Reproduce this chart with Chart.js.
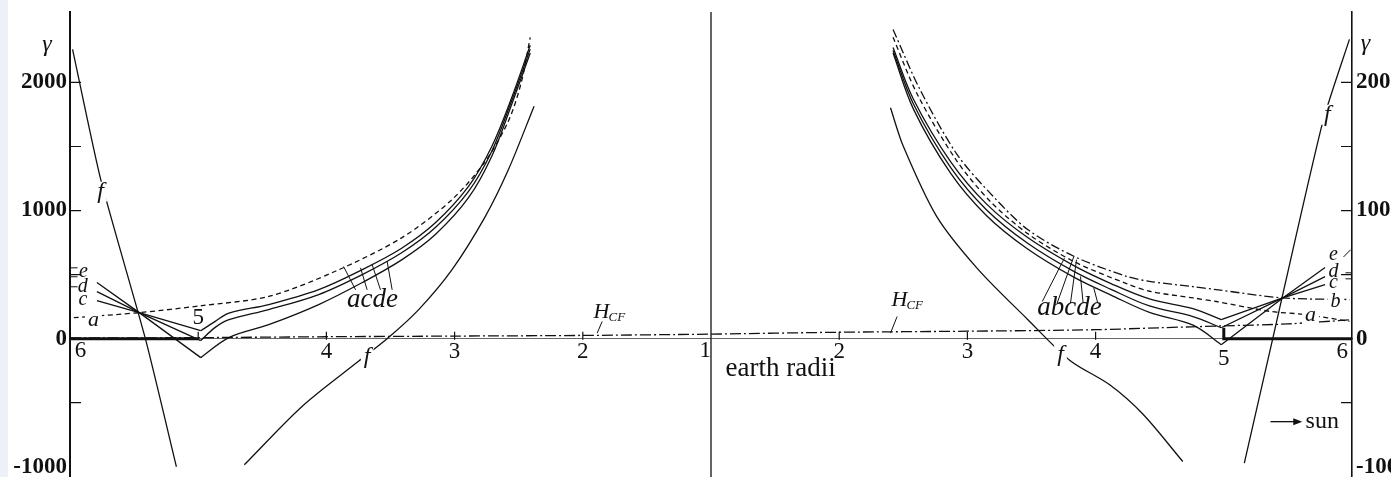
<!DOCTYPE html>
<html>
<head>
<meta charset="utf-8">
<title>γ along the earth radii</title>
<script src="https://cdn.jsdelivr.net/npm/chart.js@4.4.0/dist/chart.umd.min.js"></script>
<style>
  html, body { margin: 0; padding: 0; background: #fff; }
  canvas { display: block; }
</style>
</head>
<body>
<canvas id="fig" width="1391" height="477"></canvas>
<script>
// field in gamma against distance in earth radii.
// left half runs from 6 earth radii in to 1, right half from 1 out to 6 (towards the sun)
const gammaMin = -1080;
const gammaMax = 2550;
const gammaTicks = [-1000, 0, 1000, 2000];          //labelled values on both γ axes
const gammaMarks = [-500, 500, 1000, 1500, 2000];   //small inward marks on both γ axes
const radiusMarks = [2, 3, 4, 5];                   //small marks on the zero line

// [earth radii, gamma] pairs, left half
const leftA  = [[5.97,164],[5.46,203],[4.97,258],[4.45,330],[3.93,526],[3.41,789],[3.02,1086],[2.76,1385],[2.58,1699],[2.48,2000],[2.41,2352]];
const leftC  = [[5.79,297],[5.46,203],[4.98,62],[4.87,133],[4.76,200],[4.45,266],[4.06,383],[3.72,539],[3.41,708],[3.15,904],[2.89,1190],[2.71,1500],[2.56,1867],[2.41,2290]];
const leftD  = [[5.79,367],[5.46,203],[4.98,-15],[4.87,86],[4.76,148],[4.45,227],[4.06,344],[3.72,500],[3.41,672],[3.15,867],[2.89,1151],[2.71,1463],[2.56,1844],[2.41,2260]];
const leftE  = [[5.79,438],[5.46,203],[4.98,-148],[4.76,8],[4.45,109],[4.06,266],[3.72,438],[3.41,617],[3.15,813],[2.89,1102],[2.71,1424],[2.56,1815],[2.41,2230]];
const leftF1 = [[5.98,2258],[5.76,1241],[5.41,-8],[5.17,-1000]];
const leftF2 = [[4.64,-984],[4.19,-529],[3.75,-177],[3.52,5],[3.28,227],[3.02,539],[2.76,955],[2.58,1320],[2.38,1815]];
const leftHcf = [[6,5],[5,8],[4,15],[3,20],[2,25],[1,35]];

// right half
const rightA  = [[2.42,2352],[2.61,1906],[2.91,1398],[3.18,1070],[3.47,820],[3.83,602],[4.24,430],[4.42,370],[4.76,318],[4.94,290],[5.36,213],[5.64,188],[5.98,135]];
const rightB  = [[2.42,2414],[2.63,1945],[2.92,1437],[3.2,1112],[3.47,852],[3.83,643],[4.24,487],[4.42,447],[4.76,406],[4.94,383],[5.46,318],[5.98,305]];
const rightC  = [[2.42,2273],[2.58,1867],[2.87,1380],[3.15,1050],[3.47,789],[3.83,570],[4.12,430],[4.42,310],[4.76,234],[4.98,148],[5.46,318],[5.79,422]];
const rightD  = [[2.42,2250],[2.58,1830],[2.87,1335],[3.15,1005],[3.47,745],[3.83,525],[4.12,385],[4.42,255],[4.76,172],[4.98,85],[5.46,318],[5.79,484]];
const rightE  = [[2.42,2230],[2.58,1790],[2.87,1290],[3.15,960],[3.47,700],[3.83,480],[4.12,340],[4.42,205],[4.76,105],[4.98,-47],[5.46,318],[5.79,555]];
const rightF3 = [[2.40,1802],[2.50,1502],[2.76,955],[3.08,545],[3.47,150],[3.80,-170],[4.11,-360],[4.37,-590],[4.68,-959]];
const rightF4 = [[5.16,-971],[5.38,-8],[5.77,1685],[5.98,2336]];
const rightHcf = [[1,35],[2,50],[3,58],[4,70],[4.5,85],[5,100],[5.5,115],[6,148]];

// heavy pieces of the zero line and the line at 1 earth radius
const zeroBarLeft = [[6,0],[5,0]];
const zeroBarRight = [[5,85],[5,0],[6,0]];
const earthLine = [[1,gammaMin],[1,gammaMax]];

const ink = '#111111';
const serif = '"Liberation Serif", "DejaVu Serif", serif';

// left half is drawn mirrored: position = 1 - r, right half: r - 1
function pos(side, r) {
  return side === 'L' ? 1 - r : r - 1;
}

function toPoints(list, side) {
  return list.map(([r, g]) => ({ x: pos(side, r), y: g })).sort((p, q) => p.x - q.x);
}

function curve(list, side, dash, tension, width) {
  return {
    data: toPoints(list, side),
    borderColor: ink,
    borderWidth: width || 1.3,
    borderDash: dash || [],
    tension: tension,
    pointRadius: 0,
    fill: false,
  };
}

// c, d, e bend sharply at 5 earth radii: straight outer leg, smooth inner branch
function kinked(list, side) {
  let k = 0;
  list.forEach((p, i) => { if (p[1] < list[k][1]) k = i; });
  const parts = [list.slice(0, k + 1), list.slice(k)];
  return parts.map(part => {
    const outer = Math.max(...part.map(p => p[0])) > 5.01;
    return curve(part, side, [], outer ? 0 : 0.35);
  });
}

const dashA = [5, 3.5];
const dashB = [9, 3, 2, 3];
const dashH = [11, 3, 2, 3];

const datasets = [
  curve(leftA, 'L', dashA, 0.3),
  ...kinked(leftC, 'L'), ...kinked(leftD, 'L'), ...kinked(leftE, 'L'),
  curve(leftF1, 'L', [], 0.2),
  curve(leftF2, 'L', [], 0.3),
  curve(leftHcf, 'L', dashH, 0.3),
  curve(rightA, 'R', dashA, 0.3),
  curve(rightB, 'R', dashB, 0.3),
  ...kinked(rightC, 'R'), ...kinked(rightD, 'R'), ...kinked(rightE, 'R'),
  curve(rightF3, 'R', [], 0.3),
  curve(rightF4, 'R', [], 0.2),
  curve(rightHcf, 'R', dashH, 0.3),
  curve(zeroBarLeft, 'L', [], 0, 3),
  curve(zeroBarRight, 'R', [], 0, 3),
  curve(earthLine, 'R', [], 0, 1.3),
];

// curve letters and other lettering, placed in [side, r, gamma]; knockout = clear the line under it
const notes = [
  ['γ', 'L', 6.18, 2295, 'italic 24px'],
  ['γ', 'R', 6.105, 2303, 'italic 24px'],
  ['e', 'L', 5.895, 522, 'italic 20px'],
  ['d', 'L', 5.90, 405, 'italic 20px'],
  ['c', 'L', 5.90, 303, 'italic 20px'],
  ['a', 'L', 5.817, 147, 'italic 22px', true],
  ['5', 'L', 5.0, 162, '23px'],
  ['6', 'L', 5.918, -95, '23px'],
  ['1', 'R', 0.955, -95, '23px'],
  ['acde', 'L', 3.64, 303, 'italic 27px'],
  ['f', 'L', 5.762, 1147, 'italic 24px', true],
  ['f', 'L', 3.682, -140, 'italic 24px', true],
  ['f', 'R', 5.807, 1748, 'italic 24px', true],
  ['f', 'R', 3.726, -127, 'italic 24px', true],
  ['abcde', 'R', 3.796, 241, 'italic 27px'],
  ['e', 'R', 5.856, 655, 'italic 20px'],
  ['d', 'R', 5.856, 522, 'italic 20px'],
  ['c', 'R', 5.856, 436, 'italic 20px'],
  ['b', 'R', 5.871, 288, 'italic 20px', true],
  ['a', 'R', 5.676, 186, 'italic 22px', true],
  ['5', 'R', 5.0, -155, '23px'],
  ['6', 'R', 5.924, -100, '23px'],
];
const hcfNotes = [['L', 1.854, 209], ['R', 2.470, 303]];
const leaders = [
  ['L', 3.772, 381, 3.866, 563], ['L', 3.682, 381, 3.734, 553], ['L', 3.578, 381, 3.643, 577], ['L', 3.487, 381, 3.526, 602],
  ['L', 1.888, 43, 1.849, 134],
  ['L', 5.998, 553, 5.941, 553], ['L', 5.998, 483, 5.941, 483], ['L', 5.998, 405, 5.941, 405],
  ['R', 3.584, 290, 3.757, 629], ['R', 3.700, 277, 3.830, 641], ['R', 3.804, 277, 3.851, 616], ['R', 3.903, 277, 3.882, 485], ['R', 4.017, 277, 3.986, 395],
  ['R', 2.400, 43, 2.452, 173],
  ['R', 5.934, 638, 5.989, 694], ['R', 5.949, 514, 5.996, 514], ['R', 5.949, 467, 5.996, 467],
];

const lettering = {
  id: 'lettering',
  beforeDraw(chart) {
    const ctx = chart.ctx;
    ctx.save();
    ctx.fillStyle = '#ffffff';
    ctx.fillRect(0, 0, chart.width, chart.height);
    ctx.fillStyle = '#edf1f7';   //pale strip down the left edge
    ctx.fillRect(0, 0, 8, chart.height);
    ctx.restore();
  },
  afterDraw(chart) {
    const { ctx, chartArea } = chart;
    const x = chart.scales.x, y = chart.scales.y;
    const px = (side, r) => x.getPixelForValue(pos(side, r));
    const py = g => y.getPixelForValue(g);
    ctx.save();
    ctx.strokeStyle = ink;
    ctx.fillStyle = ink;
    ctx.lineWidth = 1.2;

    //inward marks on both γ axes
    gammaMarks.forEach(g => {
      ctx.beginPath();
      ctx.moveTo(chartArea.left, py(g)); ctx.lineTo(chartArea.left + 11, py(g));
      ctx.moveTo(chartArea.right, py(g)); ctx.lineTo(chartArea.right - 11, py(g));
      ctx.stroke();
    });
    //marks standing on the zero line
    radiusMarks.forEach(r => {
      ['L', 'R'].forEach(side => {
        ctx.beginPath();
        ctx.moveTo(px(side, r), py(0) + 1); ctx.lineTo(px(side, r), py(0) - 7);
        ctx.stroke();
      });
    });
    //leader lines from the letters to their curves
    ctx.lineWidth = 1;
    leaders.forEach(([side, r1, g1, r2, g2]) => {
      ctx.beginPath();
      ctx.moveTo(px(side, r1), py(g1)); ctx.lineTo(px(side, r2), py(g2));
      ctx.stroke();
    });

    ctx.textAlign = 'center';
    ctx.textBaseline = 'middle';
    notes.forEach(([text, side, r, g, font, knockout]) => {
      ctx.font = font + ' ' + serif;
      const cx = px(side, r), cy = py(g);
      if (knockout) {
        const w = ctx.measureText(text).width + 6;
        ctx.fillStyle = '#ffffff';
        ctx.fillRect(cx - w / 2, cy - 10, w, 20);
        ctx.fillStyle = ink;
      }
      ctx.fillText(text, cx, cy);
    });
    hcfNotes.forEach(([side, r, g]) => {
      ctx.font = 'italic 22px ' + serif;
      ctx.textAlign = 'center';
      ctx.fillText('H', px(side, r), py(g));
      ctx.font = 'italic 13px ' + serif;
      ctx.textAlign = 'left';
      ctx.fillText('CF', px(side, r) + 7, py(g) + 6);
    });

    ctx.textAlign = 'left';
    ctx.font = '27px ' + serif;
    ctx.fillText('earth radii', px('R', 1.113), py(-240));

    //arrow pointing to the sun
    const ay = py(-648);
    const ax0 = px('R', 5.364), ax1 = px('R', 5.612);
    ctx.lineWidth = 1.3;
    ctx.beginPath(); ctx.moveTo(ax0, ay); ctx.lineTo(ax1 - 4, ay); ctx.stroke();
    ctx.beginPath(); ctx.moveTo(ax1, ay); ctx.lineTo(ax1 - 9, ay - 3.5); ctx.lineTo(ax1 - 9, ay + 3.5); ctx.closePath(); ctx.fill();
    ctx.font = '24px ' + serif;
    ctx.fillText('sun', px('R', 5.638), ay);
    ctx.restore();
  }
};

function gammaAxis(side, width, pad) {
  return {
    type: 'linear',
    position: side,
    min: gammaMin,
    max: gammaMax,
    afterBuildTicks: s => { s.ticks = gammaTicks.map(v => ({ value: v })); },
    //fixed width, and no extra room for the end labels
    afterFit: s => { s.width = width; s.paddingTop = 0; s.paddingBottom = 0; },
    grid: { display: false, drawTicks: false },
    border: { display: true, color: ink, width: side === 'left' ? 2 : 1.6 },
    ticks: {
      padding: pad,
      color: ink,
      font: { family: serif, size: 23, weight: 'bold' },
      callback: v => String(v),
    },
  };
}

new Chart(document.getElementById('fig'), {
  type: 'line',
  data: { datasets },
  plugins: [lettering],
  options: {
    responsive: false,
    animation: false,
    devicePixelRatio: 1,
    events: [],
    layout: { padding: { top: 12, bottom: 0, left: 0, right: 0 } },
    plugins: { legend: { display: false }, tooltip: { enabled: false } },
    scales: {
      x: {
        type: 'linear',
        position: { y: 0 },
        min: -5,
        max: 5,
        afterFit: s => { s.paddingLeft = 0; s.paddingRight = 0; },
        grid: { display: false, drawTicks: false },
        border: { display: true, color: '#666', width: 1 },
        ticks: {
          stepSize: 1,
          autoSkip: false,
          maxRotation: 0,
          padding: 0,
          color: ink,
          font: { family: serif, size: 23 },
          //1, both 5s and the outer 6s are lettered separately
          callback: v => (v === 0 || Math.abs(v) >= 4) ? '' : String(Math.abs(v) + 1),
        },
      },
      y: gammaAxis('left', 70, 3),
      y2: gammaAxis('right', 39, 4),
    },
  },
});
</script>
</body>
</html>
